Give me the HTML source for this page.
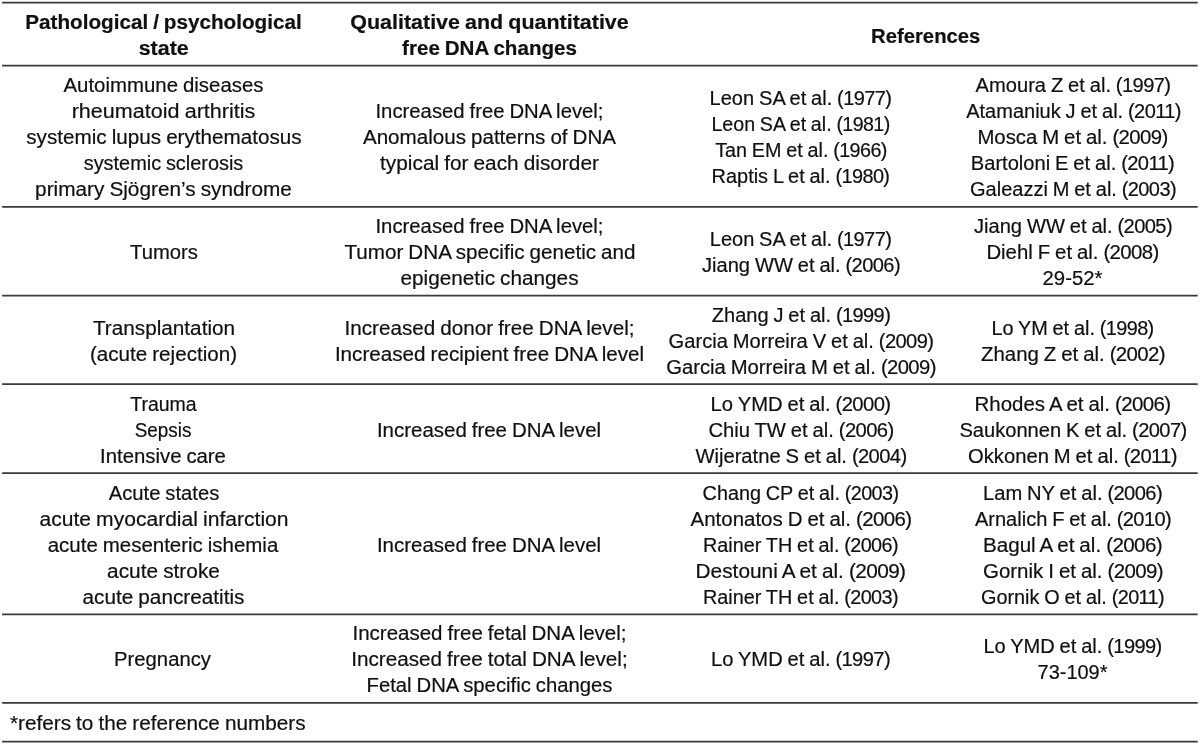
<!DOCTYPE html>
<html lang="en">
<head>
<meta charset="utf-8">
<title>Free DNA changes in pathological and psychological states</title>
<style>
html,body{margin:0;padding:0;background:#fff;}
body{width:1200px;height:754px;overflow:hidden;position:relative;font-family:"Liberation Sans", Arial, Helvetica, sans-serif;color:#101010;}
.tbl{position:absolute;left:0;top:0;width:1200px;height:754px;background:#fff;overflow:hidden;}
.rules{position:absolute;left:0;top:0;width:1200px;height:754px;display:block;}
.cell{position:absolute;text-align:center;word-spacing:-0.7px;-webkit-text-stroke:0.2px #101010;font-size:20.0px;line-height:26px;white-space:nowrap;}
.cell.th{font-size:20.0px;font-weight:700;word-spacing:-0.8px;}
.ln{display:block;height:26px;transform-origin:50% 50%;white-space:pre;}
.y{letter-spacing:-0.6px;}
.foot{position:absolute;word-spacing:-0.7px;-webkit-text-stroke:0.2px #101010;font-size:20.0px;line-height:26px;white-space:nowrap;}
.foot .ln{transform-origin:0 50%;display:inline-block;}
</style>
</head>
<body>
<div class="tbl" role="table">
<svg class="rules" width="1200" height="754" viewBox="0 0 1200 754" aria-hidden="true">
<g stroke="#3a3a3a" stroke-width="1.8" fill="none">
<line x1="2.1" y1="2.7" x2="1197.7" y2="2.7"/>
<line x1="2.1" y1="65.6" x2="1197.7" y2="65.6"/>
<line x1="2.1" y1="206.8" x2="1197.7" y2="206.8"/>
<line x1="2.1" y1="295.6" x2="1197.7" y2="295.6"/>
<line x1="2.1" y1="384.2" x2="1197.7" y2="384.2"/>
<line x1="2.1" y1="473.2" x2="1197.7" y2="473.2"/>
<line x1="2.1" y1="614.3" x2="1197.7" y2="614.3"/>
<line x1="2.1" y1="702.9" x2="1197.7" y2="702.9"/>
<line x1="2.1" y1="741.7" x2="1197.7" y2="741.7"/>
</g>
</svg>
<div class="row head" role="row">
<div class="cell th" style="left:-1.50px;top:9.00px;width:330px">
<span class="ln" style="transform:translate(-0.50px,0.00px) scaleX(1.0339)">Pathological / psychological</span>
<span class="ln" style="transform:translate(-0.30px,0.00px) scaleX(1.0720)">state</span>
</div>
<div class="cell th" style="left:324.50px;top:9.00px;width:330px">
<span class="ln" style="transform:translate(-0.50px,0.00px) scaleX(1.0726)">Qualitative and quantitative</span>
<span class="ln" style="transform:translate(-0.50px,0.00px) scaleX(1.0287)">free DNA changes</span>
</div>
<div class="cell th" style="left:760.90px;top:23.00px;width:330px">
<span class="ln" style="transform:translate(-0.30px,0.00px) scaleX(1.0130)">References</span>
</div>
</div>
<div class="row" role="row">
<div class="cell td" style="left:-1.50px;top:72.00px;width:330px">
<span class="ln" style="transform:translate(-0.50px,0.00px) scaleX(1.0200)">Autoimmune diseases</span>
<span class="ln" style="transform:translate(-0.50px,0.00px) scaleX(1.0770)">rheumatoid arthritis</span>
<span class="ln" style="transform:scaleX(1.0335)">systemic lupus erythematosus</span>
<span class="ln" style="transform:translate(-0.50px,0.00px) scaleX(0.9950)">systemic sclerosis</span>
<span class="ln" style="transform:translate(-0.50px,0.00px) scaleX(1.0389)">primary Sjögren’s syndrome</span>
</div>
<div class="cell td" style="left:324.50px;top:98.00px;width:330px">
<span class="ln" style="transform:translate(-0.50px,0.00px) scaleX(1.0149)">Increased free DNA level;</span>
<span class="ln" style="transform:translate(-0.50px,0.00px) scaleX(1.0301)">Anomalous patterns of DNA</span>
<span class="ln" style="transform:translate(-0.50px,0.00px) scaleX(1.0408)">typical for each disorder</span>
</div>
<div class="cell td" style="left:636.00px;top:85.00px;width:330px">
<span class="ln" style="transform:translate(-0.50px,0.00px) scaleX(1.0017)">Leon SA et al. <span class="y">(1977)</span></span>
<span class="ln" style="transform:translate(-0.50px,0.00px) scaleX(0.9818)">Leon SA et al. <span class="y">(1981)</span></span>
<span class="ln" style="transform:scaleX(0.9880)">Tan EM et al. <span class="y">(1966)</span></span>
<span class="ln" style="transform:translate(-0.50px,0.00px) scaleX(0.9961)">Raptis L et al. <span class="y">(1980)</span></span>
</div>
<div class="cell td" style="left:908.00px;top:72.00px;width:330px">
<span class="ln" style="transform:scaleX(1.0057)">Amoura Z et al. <span class="y">(1997)</span></span>
<span class="ln" style="transform:translate(0.50px,0.00px) scaleX(1.0006)">Atamaniuk J et al. <span class="y">(2011)</span></span>
<span class="ln" style="transform:translate(-0.50px,0.00px) scaleX(1.0171)">Mosca M et al. <span class="y">(2009)</span></span>
<span class="ln" style="transform:translate(-0.50px,0.00px) scaleX(1.0057)">Bartoloni E et al. <span class="y">(2011)</span></span>
<span class="ln" style="transform:scaleX(1.0004)">Galeazzi M et al. <span class="y">(2003)</span></span>
</div>
</div>
<div class="row" role="row">
<div class="cell td" style="left:-1.50px;top:239.00px;width:330px">
<span class="ln" style="transform:scaleX(1.0115)">Tumors</span>
</div>
<div class="cell td" style="left:324.50px;top:213.00px;width:330px">
<span class="ln" style="transform:translate(-0.50px,0.00px) scaleX(1.0149)">Increased free DNA level;</span>
<span class="ln" style="transform:scaleX(1.0314)">Tumor DNA specific genetic and</span>
<span class="ln" style="transform:translate(-0.50px,0.00px) scaleX(1.0370)">epigenetic changes</span>
</div>
<div class="cell td" style="left:636.00px;top:226.00px;width:330px">
<span class="ln" style="transform:translate(-0.50px,0.00px) scaleX(0.9994)">Leon SA et al. <span class="y">(1977)</span></span>
<span class="ln" style="transform:scaleX(1.0050)">Jiang WW et al. <span class="y">(2006)</span></span>
</div>
<div class="cell td" style="left:908.00px;top:213.00px;width:330px">
<span class="ln" style="transform:scaleX(1.0050)">Jiang WW et al. <span class="y">(2005)</span></span>
<span class="ln" style="transform:translate(-0.50px,0.00px) scaleX(1.0175)">Diehl F et al. <span class="y">(2008)</span></span>
<span class="ln" style="transform:translate(-0.50px,0.00px) scaleX(1.0153)">29-52*</span>
</div>
</div>
<div class="row" role="row">
<div class="cell td" style="left:-1.50px;top:315.00px;width:330px">
<span class="ln" style="transform:scaleX(1.0371)">Transplantation</span>
<span class="ln" style="transform:translate(-0.50px,0.00px) scaleX(1.0317)">(acute rejection)</span>
</div>
<div class="cell td" style="left:324.50px;top:315.00px;width:330px">
<span class="ln" style="transform:translate(-0.50px,0.00px) scaleX(1.0333)">Increased donor free DNA level;</span>
<span class="ln" style="transform:translate(-0.50px,0.00px) scaleX(1.0322)">Increased recipient free DNA level</span>
</div>
<div class="cell td" style="left:636.00px;top:302.00px;width:330px">
<span class="ln" style="transform:scaleX(1.0014)">Zhang J et al. <span class="y">(1999)</span></span>
<span class="ln" style="transform:scaleX(1.0068)">Garcia Morreira V et al. <span class="y">(2009)</span></span>
<span class="ln" style="transform:scaleX(1.0123)">Garcia Morreira M et al. <span class="y">(2009)</span></span>
</div>
<div class="cell td" style="left:908.00px;top:315.00px;width:330px">
<span class="ln" style="transform:translate(-0.50px,0.00px) scaleX(0.9931)">Lo YM et al. <span class="y">(1998)</span></span>
<span class="ln" style="transform:scaleX(1.0201)">Zhang Z et al. <span class="y">(2002)</span></span>
</div>
</div>
<div class="row" role="row">
<div class="cell td" style="left:-1.50px;top:391.00px;width:330px">
<span class="ln" style="transform:translate(-0.50px,0.00px) scaleX(0.9740)">Trauma</span>
<span class="ln" style="transform:translate(-1.00px,0.00px) scaleX(0.9440)">Sepsis</span>
<span class="ln" style="transform:translate(-1.00px,0.00px) scaleX(1.0164)">Intensive care</span>
</div>
<div class="cell td" style="left:324.50px;top:417.00px;width:330px">
<span class="ln" style="transform:translate(-1.00px,0.00px) scaleX(1.0233)">Increased free DNA level</span>
</div>
<div class="cell td" style="left:636.00px;top:391.00px;width:330px">
<span class="ln" style="transform:translate(-0.50px,0.00px) scaleX(1.0114)">Lo YMD et al. <span class="y">(2000)</span></span>
<span class="ln" style="transform:scaleX(1.0103)">Chiu TW et al. <span class="y">(2006)</span></span>
<span class="ln" style="transform:scaleX(1.0093)">Wijeratne S et al. <span class="y">(2004)</span></span>
</div>
<div class="cell td" style="left:908.00px;top:391.00px;width:330px">
<span class="ln" style="transform:translate(-0.50px,0.00px) scaleX(1.0224)">Rhodes A et al. <span class="y">(2006)</span></span>
<span class="ln" style="transform:scaleX(1.0054)">Saukonnen K et al. <span class="y">(2007)</span></span>
<span class="ln" style="transform:translate(-0.50px,0.00px) scaleX(1.0112)">Okkonen M et al. <span class="y">(2011)</span></span>
</div>
</div>
<div class="row" role="row">
<div class="cell td" style="left:-1.50px;top:480.00px;width:330px">
<span class="ln" style="transform:scaleX(1.0115)">Acute states</span>
<span class="ln" style="transform:scaleX(1.0529)">acute myocardial infarction</span>
<span class="ln" style="transform:translate(-1.00px,0.00px) scaleX(1.0232)">acute mesenteric ishemia</span>
<span class="ln" style="transform:translate(-0.50px,0.00px) scaleX(1.0423)">acute stroke</span>
<span class="ln" style="transform:translate(-0.50px,0.00px) scaleX(1.0381)">acute pancreatitis</span>
</div>
<div class="cell td" style="left:324.50px;top:532.00px;width:330px">
<span class="ln" style="transform:translate(-1.00px,0.00px) scaleX(1.0233)">Increased free DNA level</span>
</div>
<div class="cell td" style="left:636.00px;top:480.00px;width:330px">
<span class="ln" style="transform:translate(-0.50px,0.00px) scaleX(0.9899)">Chang CP et al. <span class="y">(2003)</span></span>
<span class="ln" style="transform:scaleX(1.0224)">Antonatos D et al. <span class="y">(2006)</span></span>
<span class="ln" style="transform:translate(-0.50px,0.00px) scaleX(0.9916)">Rainer TH et al. <span class="y">(2006)</span></span>
<span class="ln" style="transform:translate(-0.50px,0.00px) scaleX(1.0412)">Destouni A et al. <span class="y">(2009)</span></span>
<span class="ln" style="transform:translate(-0.50px,0.00px) scaleX(0.9916)">Rainer TH et al. <span class="y">(2003)</span></span>
</div>
<div class="cell td" style="left:908.00px;top:480.00px;width:330px">
<span class="ln" style="transform:translate(-0.50px,0.00px) scaleX(1.0070)">Lam NY et al. <span class="y">(2006)</span></span>
<span class="ln" style="transform:scaleX(1.0005)">Arnalich F et al. <span class="y">(2010)</span></span>
<span class="ln" style="transform:translate(-0.50px,0.00px) scaleX(1.0305)">Bagul A et al. <span class="y">(2006)</span></span>
<span class="ln" style="transform:scaleX(1.0233)">Gornik I et al. <span class="y">(2009)</span></span>
<span class="ln" style="transform:translate(-0.50px,0.00px) scaleX(0.9922)">Gornik O et al. <span class="y">(2011)</span></span>
</div>
</div>
<div class="row" role="row">
<div class="cell td" style="left:-1.50px;top:646.00px;width:330px">
<span class="ln" style="transform:translate(-1.50px,0.00px) scaleX(1.0125)">Pregnancy</span>
</div>
<div class="cell td" style="left:324.50px;top:620.00px;width:330px">
<span class="ln" style="transform:translate(-0.50px,0.00px) scaleX(1.0250)">Increased free fetal DNA level;</span>
<span class="ln" style="transform:translate(-0.50px,0.00px) scaleX(1.0340)">Increased free total DNA level;</span>
<span class="ln" style="transform:translate(-0.50px,0.00px) scaleX(1.0146)">Fetal DNA specific changes</span>
</div>
<div class="cell td" style="left:636.00px;top:646.00px;width:330px">
<span class="ln" style="transform:translate(-0.50px,0.00px) scaleX(1.0070)">Lo YMD et al. <span class="y">(1997)</span></span>
</div>
<div class="cell td" style="left:908.00px;top:633.00px;width:330px">
<span class="ln" style="transform:translate(-0.50px,0.00px) scaleX(1.0025)">Lo YMD et al. <span class="y">(1999)</span></span>
<span class="ln" style="transform:translate(-0.50px,0.00px) scaleX(0.9967)">73-109*</span>
</div>
</div>
<div class="foot" style="left:9.600000000000001px;top:710.00px"><span class="ln" style="transform:scaleX(1.0367)">*refers to the reference numbers</span></div>
</div>
</body>
</html>
